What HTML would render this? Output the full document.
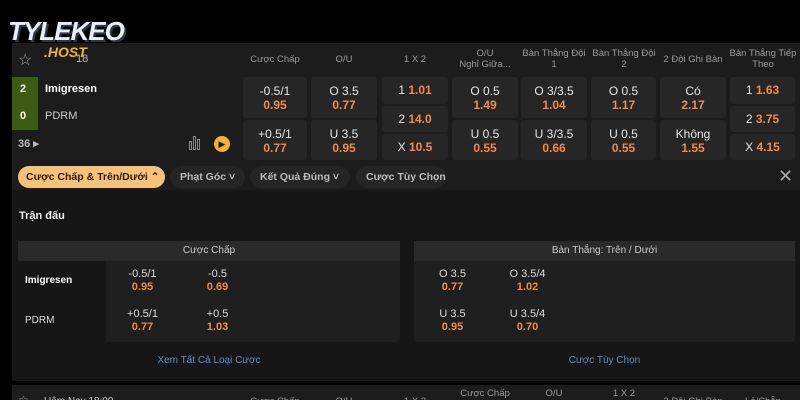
<!DOCTYPE html>
<html><head><meta charset="utf-8"><style>
*{margin:0;padding:0;box-sizing:border-box}
html,body{width:800px;height:400px;overflow:hidden}
body{background:#000;position:relative;font-family:"Liberation Sans",sans-serif;color:#ddd}
.a{position:absolute;white-space:nowrap}
.c{position:absolute;background:#262626;border-radius:3px;text-align:center;font-size:12px;color:#e6e6e6;white-space:nowrap}
.o{color:#f08a4b;font-weight:bold}
.h{position:absolute;font-size:9.5px;color:#9a9a9a;text-align:center;line-height:11px;white-space:nowrap;overflow:hidden}
.tab{position:absolute;top:166px;height:22px;border-radius:11px;background:#252525;color:#bbb;font-size:11px;font-weight:bold;line-height:22px;padding:0 10px;white-space:nowrap}
</style></head><body>
<div class="a" style="left:12px;top:43px;width:788px;height:147px;background:#1c1c1c"></div>
<div class="a" style="left:12px;top:190px;width:788px;height:191px;background:#161616"></div>
<div class="a" style="left:12px;top:385px;width:788px;height:15px;background:#1c1c1c"></div>
<div class="a" style="left:8px;top:16px;font-size:26px;font-weight:bold;font-style:italic;color:#e8eef5;letter-spacing:-1px;text-shadow:2px 2px 0 #334">TYLEKEO</div>
<div class="a" style="left:44px;top:44px;font-size:14px;font-weight:bold;font-style:italic;color:#f2b233">.HOST</div>
<div class="a" style="left:18px;top:50px;font-size:16px;color:#aaa">☆</div>
<div class="a" style="left:76px;top:53px;font-size:11px;color:#bbb">18</div>
<div class="a" style="left:12px;top:77px;width:26px;height:53px;background:#3d5c12"></div>
<div class="a" style="left:20px;top:83px;font-size:11px;font-weight:bold;color:#fff">2</div>
<div class="a" style="left:20px;top:110px;font-size:11px;font-weight:bold;color:#fff">0</div>
<div class="a" style="left:45px;top:83px;font-size:11px;font-weight:bold;color:#fff">Imigresen</div>
<div class="a" style="left:45px;top:110px;font-size:11px;color:#ccc">PDRM</div>
<div class="a" style="left:18px;top:137px;font-size:11px;color:#bbb;font-weight:bold">36 ▸</div>
<div class="a" style="left:189px;top:141px;width:3px;height:9px;border:1px solid #888"></div>
<div class="a" style="left:193px;top:136px;width:3px;height:14px;border:1px solid #888"></div>
<div class="a" style="left:197px;top:139px;width:3px;height:11px;border:1px solid #888"></div>
<div class="a" style="left:214px;top:136px;width:16px;height:16px;border-radius:50%;background:#f2b233;color:#1c1c1c;font-size:9px;text-align:center;line-height:16px">▶</div>
<div class="h" style="left:243px;top:54px;width:64px">Cược Chấp</div>
<div class="h" style="left:311px;top:54px;width:66px">O/U</div>
<div class="h" style="left:382px;top:54px;width:66px">1 X 2</div>
<div class="h" style="left:452px;top:48px;width:66px">O/U<br>Nghỉ Giữa...</div>
<div class="h" style="left:519px;top:48px;width:70px">Bàn Thắng Đội<br>1</div>
<div class="h" style="left:589px;top:48px;width:70px">Bàn Thắng Đội<br>2</div>
<div class="h" style="left:658px;top:54px;width:70px">2 Đội Ghi Bàn</div>
<div class="h" style="left:726px;top:48px;width:74px">Bàn Thắng Tiếp<br>Theo</div>
<div class="c" style="left:243px;top:77px;width:64px;height:41px;padding-top:7px">-0.5/1<br><span class="o">0.95</span></div>
<div class="c" style="left:243px;top:120px;width:64px;height:40px;padding-top:7px">+0.5/1<br><span class="o">0.77</span></div>
<div class="c" style="left:311px;top:77px;width:66px;height:41px;padding-top:7px">O 3.5<br><span class="o">0.77</span></div>
<div class="c" style="left:311px;top:120px;width:66px;height:40px;padding-top:7px">U 3.5<br><span class="o">0.95</span></div>
<div class="c" style="left:382px;top:77px;width:66px;height:27px;line-height:27px">1 <span class="o">1.01</span></div>
<div class="c" style="left:382px;top:106px;width:66px;height:26px;line-height:26px">2 <span class="o">14.0</span></div>
<div class="c" style="left:382px;top:134px;width:66px;height:26px;line-height:26px">X <span class="o">10.5</span></div>
<div class="c" style="left:452px;top:77px;width:66px;height:41px;padding-top:7px">O 0.5<br><span class="o">1.49</span></div>
<div class="c" style="left:452px;top:120px;width:66px;height:40px;padding-top:7px">U 0.5<br><span class="o">0.55</span></div>
<div class="c" style="left:521px;top:77px;width:66px;height:41px;padding-top:7px">O 3/3.5<br><span class="o">1.04</span></div>
<div class="c" style="left:521px;top:120px;width:66px;height:40px;padding-top:7px">U 3/3.5<br><span class="o">0.66</span></div>
<div class="c" style="left:591px;top:77px;width:65px;height:41px;padding-top:7px">O 0.5<br><span class="o">1.17</span></div>
<div class="c" style="left:591px;top:120px;width:65px;height:40px;padding-top:7px">U 0.5<br><span class="o">0.55</span></div>
<div class="c" style="left:660px;top:77px;width:66px;height:41px;padding-top:7px">Có<br><span class="o">2.17</span></div>
<div class="c" style="left:660px;top:120px;width:66px;height:40px;padding-top:7px">Không<br><span class="o">1.55</span></div>
<div class="c" style="left:730px;top:77px;width:65px;height:27px;line-height:27px">1 <span class="o">1.63</span></div>
<div class="c" style="left:730px;top:106px;width:65px;height:26px;line-height:26px">2 <span class="o">3.75</span></div>
<div class="c" style="left:730px;top:134px;width:65px;height:26px;line-height:26px">X <span class="o">4.15</span></div>
<div class="tab" style="left:18px;width:147px;background:#f5c27a;color:#2a1a00;font-size:10.5px;padding:0 8px">Cược Chấp &amp; Trên/Dưới ⌃</div>
<div class="tab" style="left:170px;width:75px;font-size:10.5px">Phạt Góc ˅</div>
<div class="tab" style="left:250px;width:100px;font-size:10.5px">Kết Quả Đúng ˅</div>
<div class="tab" style="left:356px;width:90px;font-size:10.5px">Cược Tùy Chọn</div>
<div class="a" style="left:778px;top:166px;font-size:18px;color:#aaa">✕</div>
<div class="a" style="left:19px;top:210px;font-size:11px;font-weight:bold;color:#eee">Trận đấu</div>
<div class="a" style="left:18px;top:241px;width:382px;height:101px;background:#1f1f1f;border-radius:3px"></div>
<div class="a" style="left:18px;top:241px;width:382px;height:20px;background:#2a2a2a;font-size:10px;color:#ccc;text-align:center;line-height:20px">Cược Chấp</div>
<div class="a" style="left:18px;top:261px;width:88px;height:81px;background:#161616"></div>
<div class="a" style="left:25px;top:275px;font-size:10px;font-weight:bold;color:#fff">Imigresen</div>
<div class="a" style="left:25px;top:315px;font-size:10px;color:#ddd">PDRM</div>
<div class="a" style="left:120px;top:268px;width:45px;text-align:center;font-size:11px;line-height:13px">-0.5/1<br><span class="o">0.95</span></div>
<div class="a" style="left:195px;top:268px;width:45px;text-align:center;font-size:11px;line-height:13px">-0.5<br><span class="o">0.69</span></div>
<div class="a" style="left:120px;top:308px;width:45px;text-align:center;font-size:11px;line-height:13px">+0.5/1<br><span class="o">0.77</span></div>
<div class="a" style="left:195px;top:308px;width:45px;text-align:center;font-size:11px;line-height:13px">+0.5<br><span class="o">1.03</span></div>
<div class="a" style="left:414px;top:241px;width:381px;height:101px;background:#1f1f1f;border-radius:3px"></div>
<div class="a" style="left:414px;top:241px;width:381px;height:20px;background:#2a2a2a;font-size:10px;color:#ccc;text-align:center;line-height:20px">Bàn Thắng: Trên / Dưới</div>
<div class="a" style="left:430px;top:268px;width:45px;text-align:center;font-size:11px;line-height:13px">O 3.5<br><span class="o">0.77</span></div>
<div class="a" style="left:505px;top:268px;width:45px;text-align:center;font-size:11px;line-height:13px">O 3.5/4<br><span class="o">1.02</span></div>
<div class="a" style="left:430px;top:308px;width:45px;text-align:center;font-size:11px;line-height:13px">U 3.5<br><span class="o">0.95</span></div>
<div class="a" style="left:505px;top:308px;width:45px;text-align:center;font-size:11px;line-height:13px">U 3.5/4<br><span class="o">0.70</span></div>
<div class="a" style="left:18px;top:355px;width:382px;text-align:center;font-size:10px;color:#5b8fc7">Xem Tất Cả Loại Cược</div>
<div class="a" style="left:414px;top:355px;width:381px;text-align:center;font-size:10px;color:#5b8fc7">Cược Tùy Chọn</div>
<div class="a" style="left:18px;top:393px;font-size:12px;color:#999">☆</div>
<div class="a" style="left:44px;top:396px;font-size:10px;color:#ccc">Hôm Nay 18:00</div>
<div class="h" style="left:243px;top:396px;width:64px">Cược Chấp</div>
<div class="h" style="left:311px;top:396px;width:66px">O/U</div>
<div class="h" style="left:382px;top:396px;width:66px">1 X 2</div>
<div class="h" style="left:452px;top:388px;width:66px">Cược Chấp</div>
<div class="h" style="left:521px;top:388px;width:66px">O/U</div>
<div class="h" style="left:591px;top:388px;width:66px">1 X 2</div>
<div class="h" style="left:658px;top:396px;width:70px">2 Đội Ghi Bàn</div>
<div class="h" style="left:728px;top:396px;width:70px">Lẻ/Chẵn</div>
</body></html>
